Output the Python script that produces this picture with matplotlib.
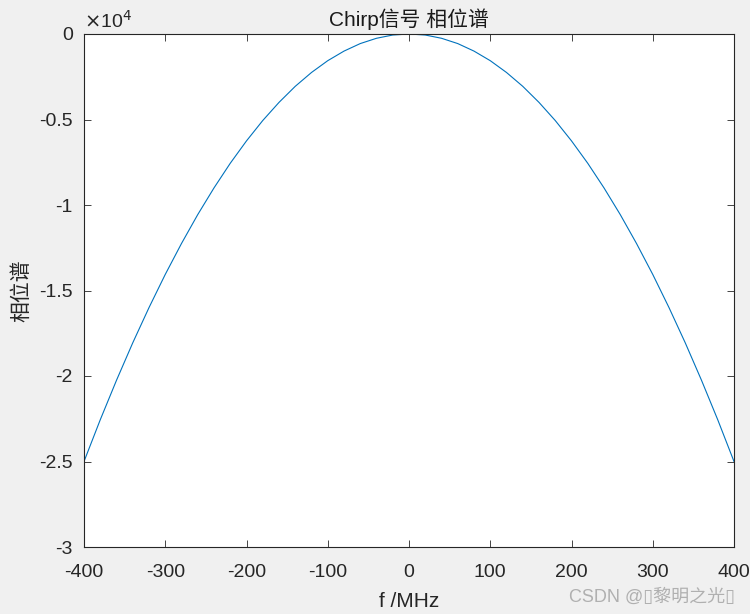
import matplotlib
matplotlib.use("Agg")
import matplotlib.pyplot as plt
from matplotlib.ticker import FixedLocator, FuncFormatter

plt.rcParams['font.family'] = ['Liberation Sans', 'Noto Sans CJK SC', 'DejaVu Sans']
plt.rcParams['axes.unicode_minus'] = False

# Data
freq_mhz = [-400, -380, -360, -340, -320, -300, -280, -260, -240, -220, -200,
            -180, -160, -140, -120, -100, -80, -60, -40, -20, 0,
            20, 40, 60, 80, 100, 120, 140, 160, 180, 200,
            220, 240, 260, 280, 300, 320, 340, 360, 380, 400]
phase = [-25000, -22560, -20250, -18060, -16000, -14060, -12250, -10560, -9000, -7560, -6250,
         -5060, -4000, -3060, -2250, -1560, -1000, -560, -250, -60, 0,
         -60, -250, -560, -1000, -1560, -2250, -3060, -4000, -5060, -6250,
         -7560, -9000, -10560, -12250, -14060, -16000, -18060, -20250, -22560, -25000]
x_ticks = [-400, -300, -200, -100, 0, 100, 200, 300, 400]
y_ticks = [0, -5000, -10000, -15000, -20000, -25000, -30000]
title = 'Chirp信号 相位谱'
xlabel = 'f /MHz'
ylabel = '相位谱'

fig = plt.figure(figsize=(7.5, 6.14), dpi=100, facecolor='#f0f0f0')
ax = fig.add_axes([84/750, 1-547/614, 650/750, 513/614])
ax.set_facecolor('white')
ax.plot(freq_mhz, phase, color='#0072BD', lw=0.8)
ax.set_xlim(-400, 400)
ax.set_ylim(-30000, 0)
ax.xaxis.set_major_locator(FixedLocator(x_ticks))
ax.yaxis.set_major_locator(FixedLocator(y_ticks))
ax.yaxis.set_major_formatter(FuncFormatter(lambda v, p: ('%g' % (v/1e4))))
ax.tick_params(direction='in', length=5, width=0.6, top=True, right=True,
               labelsize=14, colors='#262626')
ax.tick_params(axis='x', pad=12)
ax.tick_params(axis='y', pad=8)
for s in ax.spines.values():
    s.set_linewidth(0.8)
    s.set_color('#262626')
ax.set_title(title, fontsize=15, color='#1a1a1a', pad=6)
ax.set_xlabel(xlabel, fontsize=15, color='#262626', labelpad=8)
ax.set_ylabel(ylabel, fontsize=15, color='#262626', labelpad=6)
ax.text(0.0, 1.004, r'$\times$10$^{4}$', transform=ax.transAxes, fontsize=14,
        color='#262626', ha='left', va='bottom')
fig.text(735/750, 1-597/614, 'CSDN @▯黎明之光▯', fontsize=13, color='#b0b0b0',
         ha='right', va='center')
fig.savefig('out.png', dpi=100, facecolor=fig.get_facecolor())
